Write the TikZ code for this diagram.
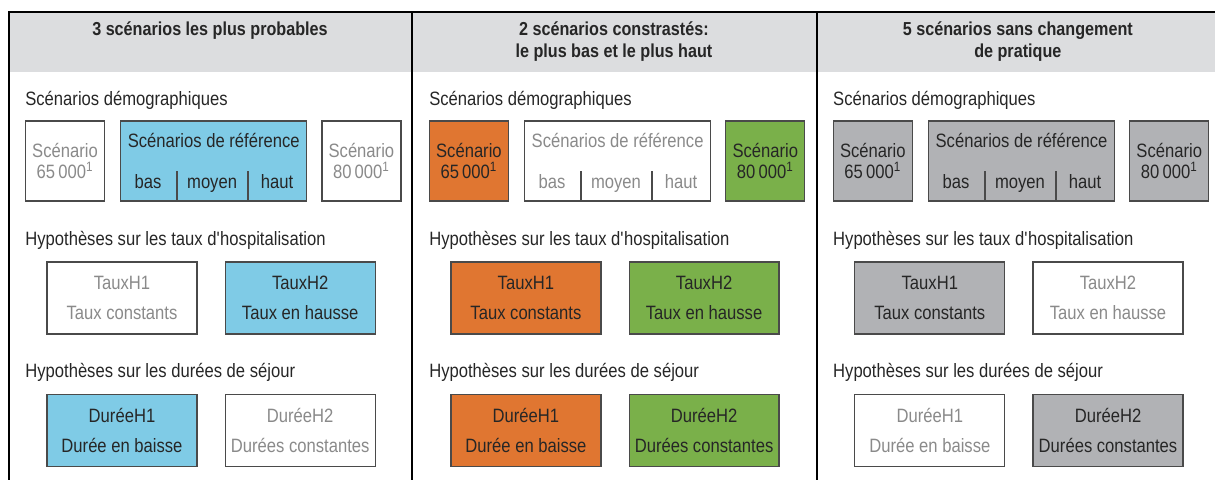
\documentclass[tikz,border=0pt]{standalone}
\usepackage{fontspec}
\setmainfont{Liberation Sans}[FakeStretch=0.86]
\usetikzlibrary{positioning}

\definecolor{bandgray}{HTML}{DCDDDF}
\definecolor{refblue}{HTML}{7FCBE6}
\definecolor{loworange}{HTML}{E07631}
\definecolor{highgreen}{HTML}{7AB04A}
\definecolor{flatgray}{HTML}{B1B2B5}
\definecolor{dimtxt}{HTML}{8A8A8A}
\definecolor{darktxt}{HTML}{262626}
\definecolor{boxline}{HTML}{4A4A4A}

\newcommand\boxfont{\fontsize{11}{12.2}\selectfont}

\tikzset{
  lbl/.style={inner sep=0pt, font=\boxfont},
  sbox/.style={lbl, draw=boxline, line width=0.7pt, align=center},
  scen/.style={sbox, minimum width=1.58cm, minimum height=1.6cm},
  refbox/.style={sbox, minimum width=3.72cm, minimum height=1.6cm},
  hyp/.style={sbox, minimum width=3cm, minimum height=1.44cm},
  off/.style={fill=white, text=dimtxt},
  onblue/.style={fill=refblue, text=darktxt},
  onorange/.style={fill=loworange, text=darktxt},
  ongreen/.style={fill=highgreen, text=darktxt},
  ongray/.style={fill=flatgray, text=darktxt},
  sect/.style={lbl, anchor=west, text=darktxt},
  head/.style={anchor=north, align=center, inner sep=0pt, text=darktxt,
               font=\bfseries\fontsize{10.7}{13}\selectfont},
  frame/.style={line width=1.1pt, black},
}

\begin{document}
\begin{tikzpicture}[x=0.02cm, y=-0.02cm]
  \useasboundingbox (0,0) rectangle (1215,480);

  % header band and column frame
  \fill[bandgray] (9,12) rectangle (1215,72);
  \draw[frame] (9,481) -- (9,12) -- (1215,12);
  \draw[frame] (412,12) -- (412,481);
  \draw[frame] (817,12) -- (817,481);

  \foreach \i/\ttl/\sa/\sref/\sb/\ta/\tb/\da/\db in {
    0/{3 scénarios les plus probables}/off/onblue/off/off/onblue/onblue/off,
    1/{2 scénarios constrastés:\\le plus bas et le plus haut}/onorange/off/ongreen/onorange/ongreen/onorange/ongreen,
    2/{5 scénarios sans changement\\de pratique}/ongray/ongray/ongray/ongray/off/off/ongray}
  {
    \begin{scope}[xshift={\i*8.08cm}]
      \node[head] (head\i) at (210,21) {\ttl};

      % demographic scenarios
      \node[sect] (demo\i) at (25,100) {Scénarios démographiques};
      \node[scen,\sa] (low\i) at (65,161) {Scénario\\65\,000\textsuperscript{1}};
      \node[refbox,\sref, right=0.3cm of low\i] (ref\i) {};
      \node[scen,\sb, right=0.28cm of ref\i] (high\i) {Scénario\\80\,000\textsuperscript{1}};
      \node[lbl,\sref,fill=none, anchor=base] (reft\i) at ([shift={(0,27)}]ref\i.north) {Scénarios de référence};
      \node[lbl,\sref,fill=none, anchor=base] (bas\i) at ([shift={(28,-13)}]ref\i.south west) {bas};
      \node[lbl,\sref,fill=none, anchor=base] (moy\i) at ([shift={(92,-13)}]ref\i.south west) {moyen};
      \node[lbl,\sref,fill=none, anchor=base] (hau\i) at ([shift={(157,-13)}]ref\i.south west) {haut};
      \draw[boxline, line width=0.7pt] ([shift={(57,0)}]ref\i.south west) -- ++(0,-31);
      \draw[boxline, line width=0.7pt] ([shift={(128,0)}]ref\i.south west) -- ++(0,-31);

      % hospitalisation rates
      \node[sect] (taux\i) at (25,240) {Hypothèses sur les taux d\textquotesingle hospitalisation};
      \node[hyp,\ta] (th1\i) at (122,298) {TauxH1\\[5pt]Taux constants};
      \node[hyp,\tb, right=0.54cm of th1\i] (th2\i) {TauxH2\\[5pt]Taux en hausse};

      % length of stay
      \node[sect] (duree\i) at (25,372) {Hypothèses sur les durées de séjour};
      \node[hyp,\da] (dh1\i) at (122,430.5) {DuréeH1\\[5pt]Durée en baisse};
      \node[hyp,\db, right=0.54cm of dh1\i] (dh2\i) {DuréeH2\\[5pt]Durées constantes};
    \end{scope}
  }
\end{tikzpicture}
\end{document}
